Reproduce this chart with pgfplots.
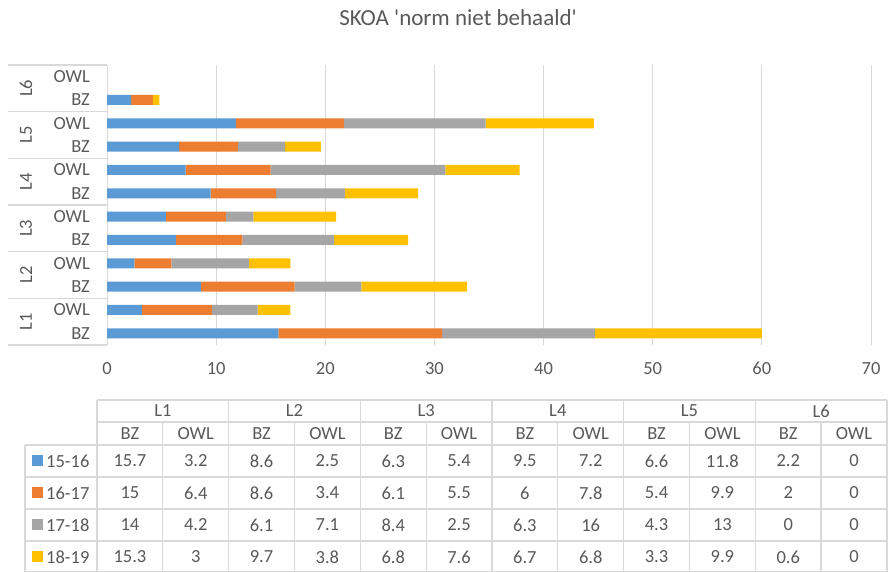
\documentclass[border=0pt]{standalone}
\usepackage{fontspec}
\setmainfont{Carlito}
\usepackage{pgfplots}
\usepackage{pgfplotstable}
\pgfplotsset{compat=1.18}
\definecolor{s1}{HTML}{5B9BD5}
\definecolor{s2}{HTML}{ED7D31}
\definecolor{s3}{HTML}{A5A5A5}
\definecolor{s4}{HTML}{FFC000}
\definecolor{txt}{HTML}{595959}
\definecolor{grd}{HTML}{D9D9D9}

% rows = L1 BZ, L1 OWL, ..., L6 OWL; columns = school years
\pgfplotstableread{
cat   a    b    c    d
L1BZ  15.7 15   14   15.3
L1OWL 3.2  6.4  4.2  3
L2BZ  8.6  8.6  6.1  9.7
L2OWL 2.5  3.4  7.1  3.8
L3BZ  6.3  6.1  8.4  6.8
L3OWL 5.4  5.5  2.5  7.6
L4BZ  9.5  6    6.3  6.7
L4OWL 7.2  7.8  16   6.8
L5BZ  6.6  5.4  4.3  3.3
L5OWL 11.8 9.9  13   9.9
L6BZ  2.2  2    0    0.6
L6OWL 0    0    0    0
}\skoa

\begin{document}
\fontsize{18.5}{22}\selectfont
\begin{tikzpicture}[every node/.style={text=txt}]
\useasboundingbox (0pt,0pt) rectangle (894pt,572pt);
\node[anchor=base, inner sep=0pt, font=\fontsize{23}{26}\selectfont] at (458pt,546pt)
  {SKOA \textquotesingle norm niet behaald\textquotesingle};

\begin{axis}[at={(107pt,227pt)}, anchor=south west, scale only axis,
  width=764pt, height=280pt,
  xbar stacked, bar width=10pt,
  xmin=0, xmax=70, ymin=-0.5, ymax=11.5,
  xtick={0,10,...,70}, ytick={0,...,11},
  yticklabels={BZ,OWL,BZ,OWL,BZ,OWL,BZ,OWL,BZ,OWL,BZ,OWL},
  axis line style={draw=none}, major tick length=0pt,
  xmajorgrids, major grid style={grd, line width=1pt},
  /pgf/number format/assume math mode=true,
  ticklabel style={text=txt, inner sep=0pt},
  xticklabel style={anchor=north, yshift=-17pt},
  yticklabel style={anchor=east, xshift=-17pt},
  clip=false]
\addplot[fill=s1, draw=none] table[x=a, y expr=\coordindex] {\skoa};
\addplot[fill=s2, draw=none] table[x=b, y expr=\coordindex] {\skoa};
\addplot[fill=s3, draw=none] table[x=c, y expr=\coordindex] {\skoa};
\addplot[fill=s4, draw=none] table[x=d, y expr=\coordindex] {\skoa};
\pgfplotsinvokeforeach{-0.5,1.5,3.5,5.5,7.5,9.5,11.5}{
  \draw[grd, line width=1.3pt] ([xshift=-99pt]axis cs:0,#1) -- (axis cs:0,#1);
}
\node[rotate=90, inner sep=0pt] at ([xshift=-81pt]axis cs:0,0.5) {L1};
\node[rotate=90, inner sep=0pt] at ([xshift=-81pt]axis cs:0,2.5) {L2};
\node[rotate=90, inner sep=0pt] at ([xshift=-81pt]axis cs:0,4.5) {L3};
\node[rotate=90, inner sep=0pt] at ([xshift=-81pt]axis cs:0,6.5) {L4};
\node[rotate=90, inner sep=0pt] at ([xshift=-81pt]axis cs:0,8.5) {L5};
\node[rotate=90, inner sep=0pt] at ([xshift=-81pt]axis cs:0,10.5) {L6};
\end{axis}

% data table below the chart
\begin{scope}[x=1pt, y=1pt, every node/.style={text=txt, inner sep=0pt}]
\def\cw{65.83}
\draw[grd, line width=1.3pt] (97,172) -- (887,172);
\draw[grd, line width=1.3pt] (97,150) -- (887,150);
\foreach \yy in {127,95,63,31,0.7}
  \draw[grd, line width=1.3pt] (25,\yy) -- (887,\yy);
\draw[grd, line width=1.3pt] (25,127) -- (25,0);
\foreach \k in {0,...,6}
  \draw[grd, line width=1.3pt] ({97+2*\cw*\k},172) -- ({97+2*\cw*\k},0);
\foreach \k in {1,...,6}
  \draw[grd, line width=1.3pt] ({97+\cw*(2*\k-1)},150) -- ({97+\cw*(2*\k-1)},0);
\foreach \k in {1,...,6}
  \node at ({97+\cw*(2*\k-1)},161) {L\k};
\foreach \r in {0,...,11}
  \node at ({97+\cw*(\r+0.5)},138.5) {\ifodd\r OWL\else BZ\fi};
\foreach \r in {0,...,11}{
  \foreach \c/\yy in {a/111,b/79,c/47,d/15}{
    \pgfplotstablegetelem{\r}{\c}\of\skoa
    \node at ({97+\cw*(\r+0.5)},\yy) {\pgfplotsretval};
  }
}
\foreach \col/\lab/\yy in {s1/15-16/111,s2/16-17/79,s3/17-18/47,s4/18-19/15}{
  \fill[\col] (32,\yy-5.5) rectangle (43,\yy+5.5);
  \node[anchor=west] at (46,\yy) {\lab};
}
\end{scope}
\end{tikzpicture}
\end{document}
